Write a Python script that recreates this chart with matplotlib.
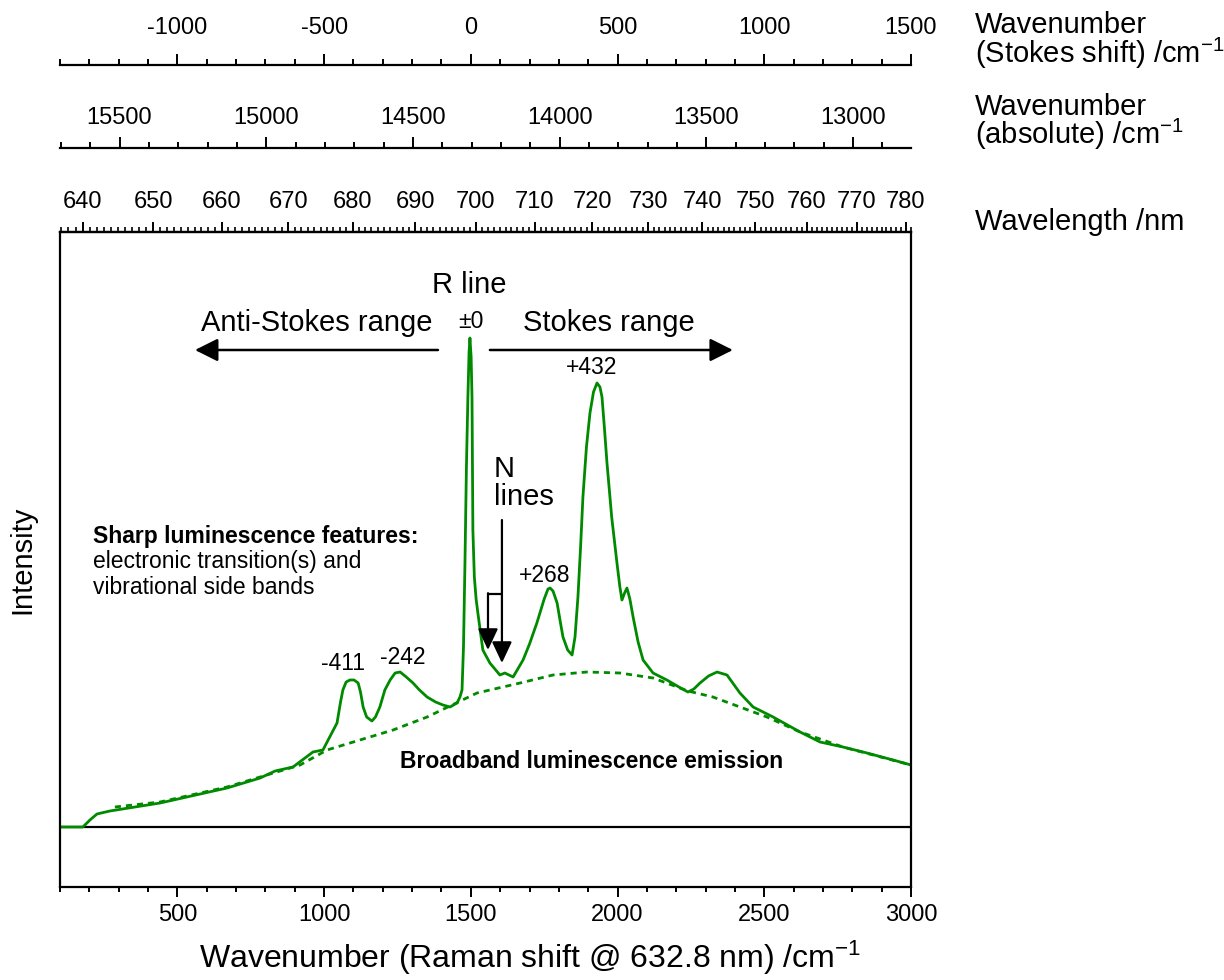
import matplotlib
matplotlib.use('Agg')
import matplotlib.pyplot as plt
from matplotlib.ticker import MultipleLocator, NullLocator, FixedLocator
import numpy as np

plt.rcParams['font.family'] = ['Liberation Sans', 'DejaVu Sans']
plt.rcParams['axes.unicode_minus'] = False
plt.rcParams['mathtext.fontset'] = 'custom'
plt.rcParams['mathtext.rm'] = 'Liberation Sans'
plt.rcParams['mathtext.it'] = 'Liberation Sans:italic'

# ---------------- data ----------------
LASER_WN = 1e7 / 632.8          # absolute wavenumber of 632.8 nm laser
R_LINE = 1500                   # Raman shift of the R line (Stokes shift zero)

raman_shift = [100, 178, 202, 226, 270, 441, 669, 782, 833, 894, 962, 996,
               1044, 1056, 1064, 1075, 1088, 1102, 1116, 1124, 1133, 1145, 1163,
               1175, 1190, 1207, 1225, 1242, 1259, 1280, 1303, 1325, 1351, 1380,
               1405, 1429, 1453, 1463, 1470, 1475, 1480, 1485, 1490, 1494, 1497,
               1501, 1504, 1507, 1512, 1518, 1524, 1541, 1565, 1599, 1616, 1644,
               1678, 1700, 1725, 1750, 1763, 1770, 1780, 1794, 1805, 1814, 1830,
               1845, 1855, 1865, 1874, 1882, 1894, 1906, 1918, 1930, 1940, 1947,
               1955, 1964, 1980, 1998, 2008, 2015, 2024, 2032, 2042, 2053, 2070,
               2087, 2121, 2168, 2215, 2240, 2260, 2281, 2310, 2339, 2373, 2417,
               2462, 2530, 2622, 2690, 2768, 2850, 2939, 3000]
intensity = [0, 0, 7, 13, 16, 24, 39, 49, 56, 60, 75, 77,
             104, 125, 137, 145, 147, 147, 144, 135, 120, 110, 106,
             110, 120, 137, 147, 154, 155, 150, 144, 137, 130, 125,
             122, 120, 124, 130, 137, 180, 264, 360, 430, 475, 489,
             470, 430, 297, 250, 228, 214, 177, 164, 152, 154, 150,
             167, 183, 204, 228, 238, 239, 236, 224, 205, 190, 177,
             172, 190, 230, 280, 330, 380, 414, 435, 444, 440, 430,
             400, 364, 310, 264, 240, 227, 234, 239, 228, 210, 185,
             167, 154, 147, 139, 135, 138, 144, 151, 155, 152, 134,
             120, 110, 95, 85, 80, 74, 67, 62]

broadband_shift = [287, 441, 669, 782, 918, 1010, 1122, 1235, 1351, 1521,
                   1668, 1780, 1896, 2008, 2121, 2240, 2325, 2417, 2509,
                   2622, 2768, 3000]
broadband_intensity = [20, 25, 40, 50, 62, 77, 87, 97, 110, 134,
                       144, 152, 155, 154, 149, 136, 130, 120, 110,
                       95, 80, 62]

stokes_ticks = [-1000, -500, 0, 500, 1000, 1500]
absolute_ticks = [15500, 15000, 14500, 14000, 13500, 13000]
wavelength_ticks = [640, 650, 660, 670, 680, 690, 700, 710, 720, 730, 740,
                    750, 760, 770, 780]

GREEN = '#008a00'

# ---------------- figure ----------------
W, H = 1224, 980
fig = plt.figure(figsize=(W / 100, H / 100), dpi=100)
ax = fig.add_axes([60 / W, 93 / H, 851 / W, 655 / H])

ax.plot(raman_shift, intensity, color=GREEN, lw=2.0, solid_joinstyle='round')
ax.plot(broadband_shift, broadband_intensity, color=GREEN, lw=2.0,
        dashes=(2.2, 1.8))
ax.axhline(0, color='black', lw=1.6, zorder=1)

TICKFS = 17
ax.set_xlim(100, 3000)
ax.set_ylim(-60, 595)
ax.yaxis.set_major_locator(NullLocator())
ax.xaxis.set_major_locator(MultipleLocator(500))
ax.xaxis.set_minor_locator(MultipleLocator(100))
for s in ax.spines.values():
    s.set_linewidth(1.6)
ax.tick_params(axis='x', which='major', direction='out', length=7, width=1.4,
               labelsize=TICKFS, pad=5)
ax.tick_params(axis='x', which='minor', direction='out', length=3.5, width=1.4)

ax.set_xlabel('Wavenumber (Raman shift @ 632.8 nm) /cm$^{-1}$', fontsize=23)
ax.xaxis.set_label_coords((530 - 60) / 851, (887 - 958) / 655)
ax.xaxis.label.set_va('center')
ax.set_ylabel('Intensity', fontsize=21)
ax.yaxis.set_label_coords((22 - 60) / 851, 0.5)
ax.yaxis.label.set_va('center')


# secondary axes
def to_wl(x):
    with np.errstate(divide='ignore', invalid='ignore'):
        return 1e7 / (LASER_WN - np.asarray(x, dtype=float))


def from_wl(w):
    with np.errstate(divide='ignore', invalid='ignore'):
        return LASER_WN - 1e7 / np.asarray(w, dtype=float)


sec_wl = ax.secondary_xaxis('top', functions=(to_wl, from_wl))
sec_wl.xaxis.set_major_locator(FixedLocator(wavelength_ticks))
sec_wl.xaxis.set_minor_locator(MultipleLocator(1))
sec_wl.tick_params(which='major', direction='out', length=7, width=1.4,
                   labelsize=TICKFS, pad=7)
sec_wl.tick_params(which='minor', direction='out', length=3.5, width=1.2)

sec_abs = ax.secondary_xaxis((887 - 148) / 655,
                             functions=(lambda x: LASER_WN - np.asarray(x),
                                        lambda a: LASER_WN - np.asarray(a)))
sec_abs.xaxis.set_major_locator(FixedLocator(absolute_ticks))
sec_abs.xaxis.set_minor_locator(MultipleLocator(100))
sec_abs.tick_params(which='major', direction='out', length=8, width=1.4,
                    labelsize=TICKFS, pad=6)
sec_abs.tick_params(which='minor', direction='out', length=4, width=1.4)

sec_st = ax.secondary_xaxis((887 - 65) / 655,
                            functions=(lambda x: np.asarray(x) - R_LINE,
                                       lambda s: np.asarray(s) + R_LINE))
sec_st.xaxis.set_major_locator(FixedLocator(stokes_ticks))
sec_st.xaxis.set_minor_locator(MultipleLocator(100))
sec_st.tick_params(which='major', direction='out', length=8, width=1.4,
                   labelsize=TICKFS, pad=11)
sec_st.tick_params(which='minor', direction='out', length=4, width=1.4)

for sec in (sec_wl, sec_abs, sec_st):
    for s in sec.spines.values():
        s.set_linewidth(1.6)

# right-hand axis titles
RFS = 21
fx = 975 / W
fig.text(fx, 1 - 33 / H, 'Wavenumber', fontsize=RFS, va='baseline')
fig.text(fx, 1 - 63 / H, '(Stokes shift) /cm$^{-1}$', fontsize=RFS, va='baseline')
fig.text(fx, 1 - 115 / H, 'Wavenumber', fontsize=RFS, va='baseline')
fig.text(fx, 1 - 144 / H, '(absolute) /cm$^{-1}$', fontsize=RFS, va='baseline')
fig.text(fx, 1 - 230 / H, 'Wavelength /nm', fontsize=RFS, va='baseline')

# annotations
BIG = 21
SMALL = 16.5
ax.text(1494, 542, 'R line', fontsize=BIG, ha='center', va='center')
ax.text(1500, 505, '±0', fontsize=SMALL, ha='center', va='center')
ax.text(1371, 504, 'Anti-Stokes range', fontsize=BIG, ha='right', va='center')
ax.text(1678, 504, 'Stokes range', fontsize=BIG, ha='left', va='center')
ax.text(1913, 459, '+432', fontsize=SMALL, ha='center', va='center')
ax.text(1753, 252, '+268', fontsize=SMALL, ha='center', va='center')
ax.text(1064, 164, '-411', fontsize=SMALL, ha='center', va='center')
ax.text(1269, 170, '-242', fontsize=SMALL, ha='center', va='center')
ax.text(1579, 350, 'N', fontsize=BIG, ha='left', va='baseline')
ax.text(1579, 322, 'lines', fontsize=BIG, ha='left', va='baseline')

ax.text(212, 284, 'Sharp luminescence features:', fontsize=SMALL,
        fontweight='bold', ha='left', va='baseline')
ax.text(212, 259, 'electronic transition(s) and', fontsize=SMALL,
        ha='left', va='baseline')
ax.text(212, 233, 'vibrational side bands', fontsize=SMALL,
        ha='left', va='baseline')
ax.text(1913, 65, 'Broadband luminescence emission', fontsize=SMALL,
        fontweight='bold', ha='center', va='center')

big_arrow = dict(arrowstyle='-|>,head_length=1.0,head_width=0.5',
                 mutation_scale=14, lw=1.8, color='black',
                 shrinkA=0, shrinkB=0)
ax.annotate('', xy=(560, 477), xytext=(1388, 477), arrowprops=big_arrow)
ax.annotate('', xy=(2393, 477), xytext=(1565, 477), arrowprops=big_arrow)

n_arrow = dict(arrowstyle='-|>,head_length=1.0,head_width=0.47',
               mutation_scale=13, lw=1.6, color='black',
               shrinkA=0, shrinkB=0)
ax.annotate('', xy=(1606, 164), xytext=(1606, 307), arrowprops=n_arrow)
ax.plot([1606, 1558.5], [233, 233], color='black', lw=1.6,
        solid_capstyle='butt')
ax.annotate('', xy=(1558.5, 177), xytext=(1558.5, 233.8), arrowprops=n_arrow)

fig.savefig('out.png', dpi=100)
